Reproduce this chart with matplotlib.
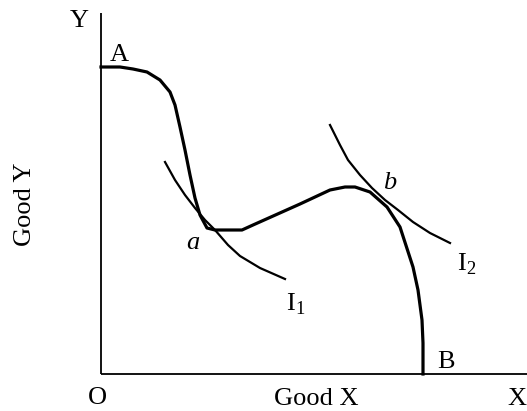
import numpy as np
import matplotlib.pyplot as plt

plt.rcParams['font.family'] = ['Liberation Serif', 'DejaVu Serif']
plt.rcParams['mathtext.fontset'] = 'custom'
plt.rcParams['mathtext.rm'] = 'Liberation Serif'

# points, origin at O, y upwards
ppf_x = [0, 19, 32, 46, 59, 69, 74, 79, 84, 89, 94, 99, 106, 114, 141, 152,
         199, 229, 244, 254, 269, 286, 299, 312, 317, 321, 322, 322]
ppf_y = [307, 307, 305, 302, 294, 282, 269, 247, 224, 199, 176, 159, 146, 144,
         144, 149, 170, 184, 187, 187, 182, 167, 147, 107, 84, 54, 31, 0]

i1_x = [64, 74, 84, 94, 104, 114, 127, 139, 159, 184]
i1_y = [212, 194, 179, 166, 154, 144, 129, 118, 106, 95]

i2_x = [229, 239, 247, 259, 271, 284, 297, 312, 329, 349]
i2_y = [249, 229, 214, 199, 186, 174, 164, 152, 141, 131]

fig = plt.figure(figsize=(5.27, 4.11), dpi=100)
ax = fig.add_axes([0, 0, 1, 1])
ax.set_xlim(-101, 426)
ax.set_ylim(-37, 374)
ax.axis('off')

# axes
ax.plot([0, 0], [0, 361], color='black', lw=1.3, solid_capstyle='butt')
ax.plot([0, 426], [0, 0], color='black', lw=1.3, solid_capstyle='butt')

ax.plot(ppf_x, ppf_y, color='black', lw=2.3, solid_joinstyle='round')
ax.plot(i1_x, i1_y, color='black', lw=1.6)
ax.plot(i2_x, i2_y, color='black', lw=1.6)

fs = 19
ax.text(-22, 353, 'Y', fontsize=fs, ha='center', va='center')
ax.text(18, 319, 'A', fontsize=fs, ha='center', va='center')
ax.text(92, 131, 'a', fontsize=fs, style='italic', ha='center', va='center')
ax.text(289, 191, 'b', fontsize=fs, style='italic', ha='center', va='center')
ax.text(195, 70, 'I$_1$', fontsize=fs, ha='center', va='center')
ax.text(366, 110, 'I$_2$', fontsize=fs, ha='center', va='center')
ax.text(345, 12, 'B', fontsize=fs, ha='center', va='center')
ax.text(-4, -24, 'O', fontsize=fs, ha='center', va='center')
ax.text(215, -25, 'Good X', fontsize=fs, ha='center', va='center')
ax.text(416, -25, 'X', fontsize=fs, ha='center', va='center')
ax.text(-76, 170, 'Good Y', fontsize=fs, rotation=90, ha='center', va='center')

fig.savefig('out.png', dpi=100)
